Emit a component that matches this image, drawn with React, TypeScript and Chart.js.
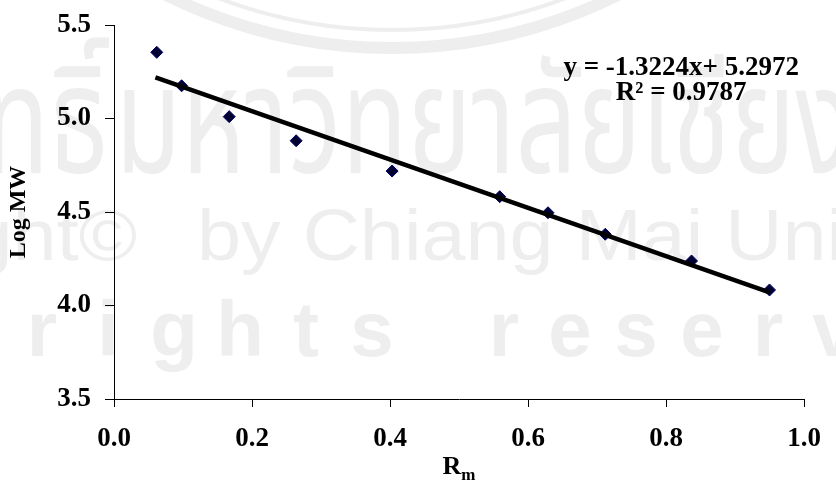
import React, { useEffect, useRef } from "react";
import { Chart, registerables } from "chart.js";

Chart.register(...registerables);

// Rm (relative mobility) of each marker protein
const rmValues = [0.062, 0.098, 0.167, 0.264, 0.403, 0.559, 0.629, 0.712, 0.837, 0.95];
// Log MW of each marker protein
const logMwValues = [5.354, 5.175, 5.01, 4.881, 4.719, 4.582, 4.496, 4.381, 4.238, 4.083];
// Linear trend line end points (as drawn)
const trendRm = [0.06, 0.95];
const trendLogMw = [5.22, 4.07];
// Axis ranges / ticks
const xMin = 0.0;
const xMax = 1.0;
const xStep = 0.2;
const yMin = 3.5;
const yMax = 5.5;
const yStep = 0.5;
// Texts
const yTitle = "Log MW";
const xTitleMain = "R";
const xTitleSub = "m";
const equationLines = ["y = -1.3224x+ 5.2972", "R² = 0.9787"];
const watermarkThaiA = "ลิขสิทธิ์";
const watermarkThaiB = "มหาวิทยาลัยเชียงใหม่";
const watermarkEnA = "Copyright©";
const watermarkEnB = "by Chiang Mai University";
const watermarkRights = "All rights reserved";

const SERIF = "'Liberation Serif', 'Times New Roman', serif";
const SANS = "'Liberation Sans', 'DejaVu Sans', sans-serif";

export default function App() {
  const canvasRef = useRef<HTMLCanvasElement | null>(null);

  useEffect(() => {
    const canvas = canvasRef.current;
    if (!canvas) return;

    const bgPlugin = {
      id: "bgWatermark",
      beforeDraw(chart: any) {
        const ctx = chart.ctx as CanvasRenderingContext2D;
        ctx.save();
        ctx.fillStyle = "#ffffff";
        ctx.fillRect(0, 0, chart.width, chart.height);
        const wm = "#eeeeee";
        // arcs of the seal
        ctx.strokeStyle = wm;
        ctx.lineWidth = 12;
        ctx.beginPath();
        ctx.arc(392, -460, 508, 0, Math.PI);
        ctx.stroke();
        ctx.lineWidth = 4;
        ctx.beginPath();
        ctx.arc(392, -460, 490, 0, Math.PI);
        ctx.stroke();
        ctx.fillStyle = wm;
        // Thai line
        const tx = 0.72;
        ctx.save();
        ctx.translate(0, 173);
        ctx.scale(tx, 1);
        ctx.font = "150px 'Noto Sans Thai', 'Noto Sans', sans-serif";
        ctx.textBaseline = "alphabetic";
        ctx.textAlign = "right";
        ctx.fillText(watermarkThaiA, 108 / tx, 0);
        ctx.textAlign = "left";
        ctx.fillText(watermarkThaiB, 115 / tx, 0);
        ctx.restore();
        // Copyright line
        const cxs = 1.1;
        ctx.save();
        ctx.translate(0, 260);
        ctx.scale(cxs, 1);
        ctx.font = "72px " + SANS;
        ctx.textAlign = "right";
        ctx.fillText(watermarkEnA, 137 / cxs, 0);
        ctx.textAlign = "left";
        ctx.fillText(watermarkEnB, 197 / cxs, 0);
        ctx.restore();
        // rights line (spaced letters)
        ctx.save();
        ctx.font = "bold 78px " + SANS;
        ctx.textAlign = "center";
        const chars = Array.from(watermarkRights);
        chars.forEach((c, i) => {
          ctx.fillText(c, 42 + (i - 4) * 66, 356);
        });
        ctx.restore();
        ctx.restore();
      },
      afterDraw(chart: any) {
        const ctx = chart.ctx as CanvasRenderingContext2D;
        const area = chart.chartArea;
        const xs = chart.scales.x;
        const ys = chart.scales.y;
        ctx.save();
        ctx.fillStyle = "#000";
        // y title
        ctx.save();
        ctx.translate(19, (area.top + area.bottom) / 2);
        ctx.rotate(-Math.PI / 2);
        ctx.font = "bold 24px " + SERIF;
        ctx.textAlign = "center";
        ctx.textBaseline = "middle";
        ctx.fillText(yTitle, 0, 0);
        ctx.restore();
        // x title with subscript
        ctx.font = "bold 26px " + SERIF;
        const wR = ctx.measureText(xTitleMain).width;
        ctx.font = "bold 17px " + SERIF;
        const wm = ctx.measureText(xTitleSub).width;
        const cx = (area.left + area.right) / 2;
        const startX = cx - (wR + wm) / 2;
        ctx.textAlign = "left";
        ctx.textBaseline = "alphabetic";
        ctx.font = "bold 26px " + SERIF;
        ctx.fillText(xTitleMain, startX, 474);
        ctx.font = "bold 17px " + SERIF;
        ctx.fillText(xTitleSub, startX + wR, 480);
        // equation
        ctx.font = "bold 27px " + SERIF;
        ctx.textAlign = "center";
        const ex = xs.getPixelForValue(0.822);
        ctx.fillText(equationLines[0], ex, ys.getPixelForValue(5.235));
        ctx.fillText(equationLines[1], ex, ys.getPixelForValue(5.1));
        ctx.restore();
      },
    };

    const chart = new Chart(canvas, {
      type: "scatter",
      data: {
        datasets: [
          {
            label: "Trend",
            data: trendRm.map((x, i) => ({ x, y: trendLogMw[i] })),
            showLine: true,
            borderColor: "#000000",
            borderWidth: 4.5,
            pointRadius: 0,
            fill: false,
          },
          {
            label: "Log MW",
            data: rmValues.map((x, i) => ({ x, y: logMwValues[i] })),
            pointStyle: "rectRot",
            pointRadius: 6,
            pointBackgroundColor: "#000033",
            pointBorderColor: "#000066",
            pointBorderWidth: 1,
          },
        ],
      },
      options: {
        responsive: false,
        animation: false,
        devicePixelRatio: 1,
        layout: { padding: { top: 25, right: 32, left: 0, bottom: 0 } },
        plugins: {
          legend: { display: false },
          tooltip: { enabled: false },
          title: { display: false },
        },
        scales: {
          x: {
            type: "linear",
            min: xMin,
            max: xMax,
            afterFit(scale: any) {
              scale.height = 101;
              scale.paddingLeft = 0;
              scale.paddingRight = 0;
            },
            ticks: {
              stepSize: xStep,
              color: "#000",
              padding: 16,
              maxRotation: 0,
              font: { family: SERIF, weight: "bold", size: 27 },
              callback: (v: any) => Number(v).toFixed(1),
            },
            grid: {
              drawOnChartArea: false,
              drawTicks: true,
              tickLength: 8,
              tickColor: "#000",
              color: "#000",
            },
            border: { display: true, color: "#000", width: 1 },
          },
          y: {
            type: "linear",
            min: yMin,
            max: yMax,
            afterFit(scale: any) {
              scale.width = 114;
              scale.paddingTop = 0;
              scale.paddingBottom = 0;
            },
            ticks: {
              stepSize: yStep,
              color: "#000",
              padding: 14,
              font: { family: SERIF, weight: "bold", size: 27 },
              callback: (v: any) => Number(v).toFixed(1),
            },
            grid: {
              drawOnChartArea: false,
              drawTicks: true,
              tickLength: 9,
              tickColor: "#000",
              color: "#000",
            },
            border: { display: true, color: "#000", width: 1 },
          },
        },
      },
      plugins: [bgPlugin],
    });

    return () => chart.destroy();
  }, []);

  return (
    <div style={{ position: "fixed", left: 0, top: 0, width: 836, height: 500, background: "#fff" }}>
      <canvas ref={canvasRef} width={836} height={500} style={{ display: "block" }} />
    </div>
  );
}
